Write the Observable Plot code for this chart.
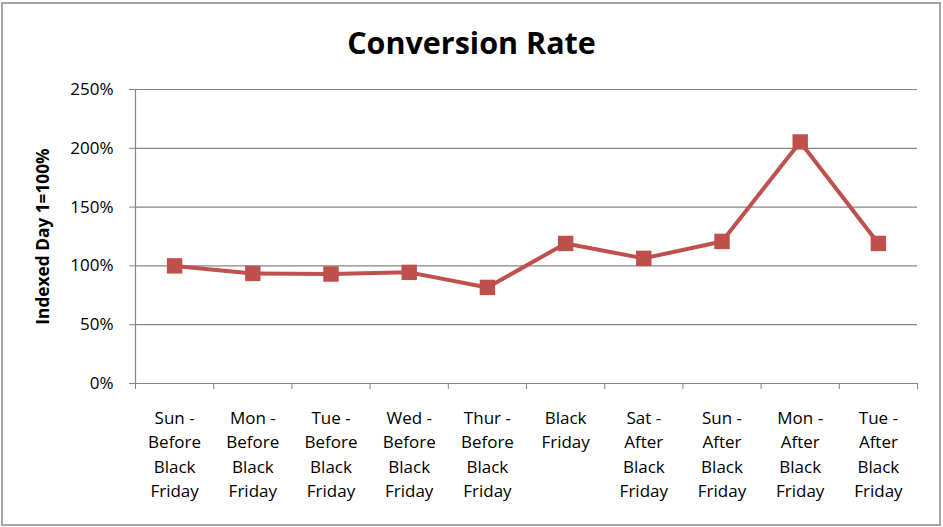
<!DOCTYPE html>
<html>
<head>
<meta charset="utf-8">
<script src="https://cdn.jsdelivr.net/npm/d3@7"></script>
<script src="https://cdn.jsdelivr.net/npm/@observablehq/plot@0.6"></script>
<style>
  html, body { margin: 0; padding: 0; background: #fff; }
  #wrap { position: relative; width: 943px; height: 527px; overflow: hidden; background: #fff; }
  #frame { position: absolute; left: 1px; top: 2px; width: 936px; height: 520px; border: 2px solid #a6a6a6; }
  #title { position: absolute; left: 0; top: 27px; width: 943px; text-align: center;
           font-family: "Open Sans", sans-serif; font-weight: bold; font-size: 30.5px; line-height: 1; color: #000; }
  #chart { position: absolute; left: 0; top: 70px; }
</style>
</head>
<body>
<div id="wrap">
  <div id="frame"></div>
  <div id="title">Conversion Rate</div>
  <div id="chart"></div>
</div>
<script>
const categories = [
  "Sun -\nBefore\nBlack\nFriday",
  "Mon -\nBefore\nBlack\nFriday",
  "Tue -\nBefore\nBlack\nFriday",
  "Wed -\nBefore\nBlack\nFriday",
  "Thur -\nBefore\nBlack\nFriday",
  "Black\nFriday",
  "Sat -\nAfter\nBlack\nFriday",
  "Sun -\nAfter\nBlack\nFriday",
  "Mon -\nAfter\nBlack\nFriday",
  "Tue -\nAfter\nBlack\nFriday"
];
const values = [100, 93.6, 93.1, 94.5, 81.7, 119.1, 106.4, 120.8, 205.4, 119.1];
const yTicks = [0, 50, 100, 150, 200, 250];
const yLabel = "Indexed Day 1=100%";

const data = categories.map((c, i) => ({pos: i + 0.5, label: c, value: values[i]}));
const boundaries = d3.range(0, categories.length + 1);
const centers = data.map(d => d.pos);

const font = "Open Sans, sans-serif";
const plot = Plot.plot({
  width: 943,
  height: 457,
  marginLeft: 135,
  marginRight: 26,
  marginTop: 19,
  marginBottom: 144,
  style: {fontFamily: font, fontSize: "17px", color: "#000", background: "transparent"},
  x: {domain: [0, categories.length]},
  y: {domain: [0, 250]},
  marks: [
    Plot.gridY(yTicks.slice(1), {stroke: "#868686", strokeOpacity: 1, strokeWidth: 1.2}),
    Plot.axisY({ticks: yTicks, tickFormat: d => d + "%", tickSize: 6, tickPadding: 16,
                stroke: "#868686", label: null, fontSize: 17}),
    Plot.ruleX([0], {stroke: "#868686", strokeWidth: 1.2}),
    Plot.ruleY([0], {stroke: "#868686", strokeWidth: 1.2}),
    Plot.axisX({ticks: boundaries, tickFormat: () => "", tickSize: 6, stroke: "#868686", label: null}),
    Plot.axisX({ticks: centers, tickFormat: (d) => categories[Math.round(d - 0.5)], tickSize: 0,
                tickPadding: 23, lineHeight: 1.44, label: null, fontSize: 17}),
    Plot.line(data, {x: "pos", y: "value", stroke: "#c0504d", strokeWidth: 4}),
    Plot.dot(data, {x: "pos", y: "value", symbol: "square", r: 8.7, fill: "#c0504d", stroke: "none"}),
    Plot.text([yLabel], {frameAnchor: "left", dx: -92, rotate: -90, text: d => d, textAnchor: "middle",
                         fontWeight: "bold", fontSize: 17.3})
  ]
});
document.getElementById("chart").appendChild(plot);
</script>
</body>
</html>
